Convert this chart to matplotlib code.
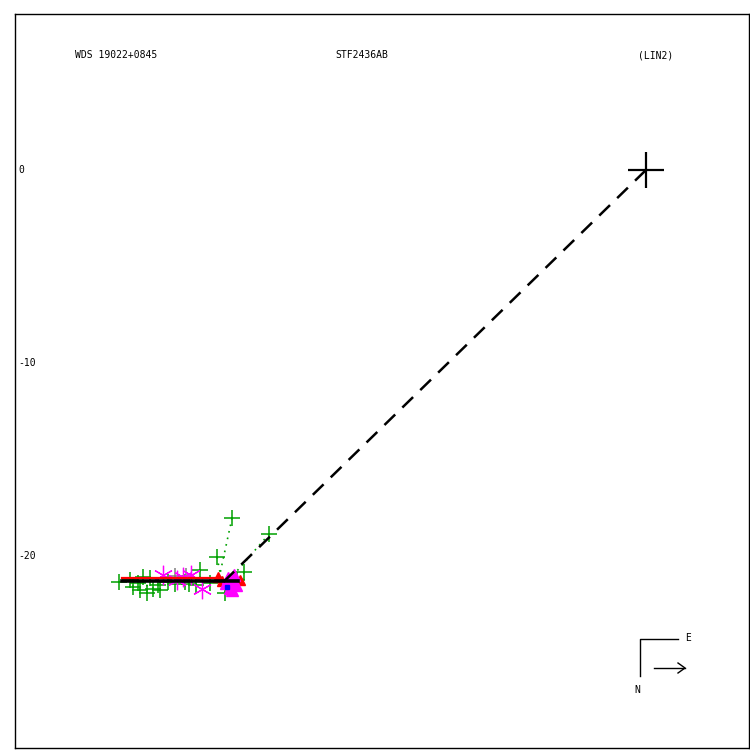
import numpy as np
import matplotlib
matplotlib.use('Agg')
import matplotlib.pyplot as plt
from matplotlib.lines import Line2D

# *****************************************
# header texts
wds_name = 'WDS 19022+0845'
disc_name = 'STF2436AB'
ref_name = '(LIN2)'
ytick_vals = [0, -10, -20]

# orbit / observations (arcsec, x to the right, y up)
orbit_x = [-27.15, -21.14]
orbit_y = [-21.30, -21.30]
old_orbit_x = [-27.15, -22.30]
old_orbit_y = [-21.12, -21.12]
node_x = [-21.90, 0.0]
node_y = [-21.35, 0.0]

green_x = [-21.45, -19.53, -22.23, -23.11, -20.83, -27.31, -26.06, -26.58, -26.22, -25.85,
           -25.54, -25.28, -24.77, -24.40, -23.89, -23.68, -21.81, -21.19, -26.74, -25.70,
           -25.18, -26.32, -22.59, -23.32]
green_y = [-18.03, -18.86, -20.05, -20.73, -20.83, -21.35, -21.09, -21.61, -21.76, -21.92,
           -21.71, -21.50, -21.35, -21.45, -21.35, -21.45, -21.92, -21.24, -21.24, -21.14,
           -21.76, -21.40, -21.40, -21.50]
# predicted positions on the orbit for each green measure
pred_x = [-22.12, -21.24, -22.00, -23.11, -20.90, -27.31, -26.06, -26.58, -26.22, -25.85,
          -25.54, -25.28, -24.77, -24.40, -23.89, -23.68, -21.81, -21.19, -26.74, -25.70,
          -25.18, -26.32, -22.59, -23.32]
pred_y = [-21.14, -20.83, -21.20, -21.30, -21.25, -21.30, -21.30, -21.30, -21.30, -21.30,
          -21.30, -21.30, -21.30, -21.30, -21.30, -21.30, -21.30, -21.30, -21.30, -21.30,
          -21.30, -21.30, -21.30, -21.30]
gray_x = [-24.40, -23.83]
gray_y = [-21.04, -21.04]
star_x = [-25.03, -23.99, -23.58, -23.01, -24.30]
star_y = [-20.98, -21.09, -20.98, -21.71, -21.24]
tri_x = [-21.66, -21.45, -21.55, -21.35, -21.24, -21.76, -21.45]
tri_y = [-21.14, -21.40, -21.66, -20.98, -21.50, -21.40, -21.76]
red_x = [-22.18, -21.97, -21.04]
red_y = [-21.09, -21.30, -21.24]
blue_x = [-21.71]
blue_y = [-21.61]

# *****************************************

fig = plt.figure(figsize=(7.5, 7.5), dpi=100)
ax = fig.add_axes([15 / 750, 2 / 750, 734 / 750, 734 / 750])
s = 19.3
ax.set_xlim((15 - 646) / s, (749 - 646) / s)
ax.set_ylim((170 - 748) / s, (170 - 14) / s)
ax.set_xticks([])
ax.set_yticks([])
for sp in ax.spines.values():
    sp.set_linewidth(1.0)

mono = 'DejaVu Sans Mono'

# residual lines to the orbit
for gx, gy, px, py in zip(green_x, green_y, pred_x, pred_y):
    ax.plot([gx, px], [gy, py], ls=(0, (1, 3)), color='#00a000', lw=1.2)

ax.plot(green_x, green_y, '+', color='#00a000', ms=11, mew=1.1)
ax.plot(gray_x, gray_y, '+', color='#808080', ms=11, mew=1.1)
ax.plot(star_x, star_y, color='#ff00ff', ms=14, mew=0.9, ls='none', marker=(6, 2, 0))
ax.plot(red_x, red_y, '^', color='#ff0000', ms=7)
ax.plot(tri_x, tri_y, '^', color='#ff00ff', ms=9)
ax.plot(blue_x, blue_y, 's', color='#0000ff', ms=3)

ax.plot(old_orbit_x, old_orbit_y, color='#ff0000', lw=1.6)
ax.plot(orbit_x, orbit_y, color='black', lw=2.6)
ax.plot(node_x, node_y, color='black', lw=1.8, dashes=(6, 4))
ax.plot([0], [0], '+', color='black', ms=26, mew=1.6)

for v in ytick_vals:
    ax.text(0.004, v, str(v), transform=ax.get_yaxis_transform(), fontsize=7,
            family=mono, ha='left', va='center')

fig.text(75 / 750, 1 - 55 / 750, wds_name, fontsize=7, family=mono, va='center')
fig.text(335 / 750, 1 - 55 / 750, disc_name, fontsize=7, family=mono, va='center')
fig.text(638 / 750, 1 - 55 / 750, ref_name, fontsize=7, family=mono, va='center')

# compass
fig.add_artist(Line2D([640 / 750, 640 / 750, 678 / 750], [1 - 676 / 750, 1 - 639 / 750, 1 - 639 / 750],
                      color='black', lw=1))
fig.text(685 / 750, 1 - 638 / 750, 'E', fontsize=7, family=mono, va='center')
fig.text(634 / 750, 1 - 690 / 750, 'N', fontsize=7, family=mono, va='center')
fig.add_artist(Line2D([654 / 750, 685 / 750], [1 - 668 / 750, 1 - 668 / 750], color='black', lw=1))
fig.add_artist(Line2D([678 / 750, 685 / 750, 678 / 750], [1 - 663 / 750, 1 - 668 / 750, 1 - 673 / 750],
                      color='black', lw=1))

fig.savefig('out.png', dpi=100)
